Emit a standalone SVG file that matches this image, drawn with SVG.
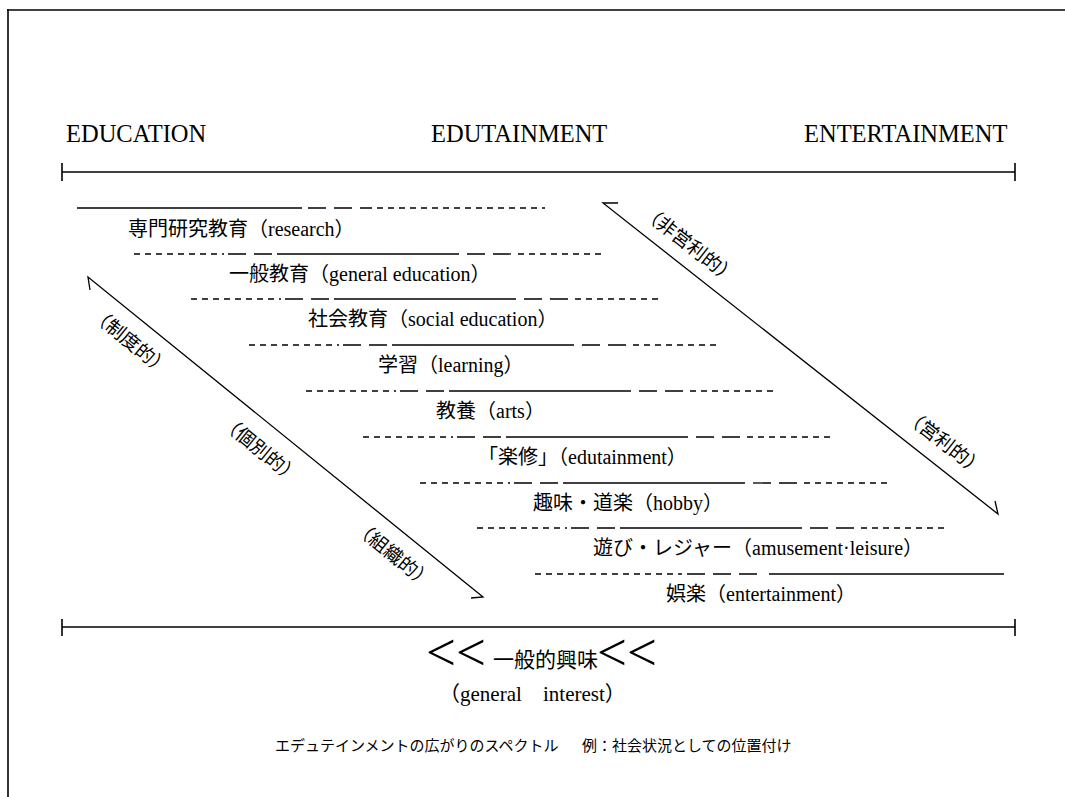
<svg xmlns="http://www.w3.org/2000/svg" width="1065" height="797" viewBox="0 0 1065 797">
<style>
  .ln { stroke:#000; stroke-width:1.3; fill:none; }
  .sh { stroke:#000; stroke-width:1.3; stroke-dasharray:6 5; fill:none; }
  .lg { stroke:#000; stroke-width:1.3; stroke-dasharray:18 8; fill:none; }
  .ax { stroke:#000; stroke-width:1.6; fill:none; }
  .t  { font-family:"Liberation Serif","Noto Sans CJK JP",serif; font-size:20px; fill:#000; }
  .h  { font-family:"Liberation Serif",serif; font-size:24.5px; fill:#000; }
  .r  { font-family:"Liberation Serif","Noto Sans CJK JP",serif; font-size:19px; fill:#000; text-anchor:middle; }
  .cv { font-family:"Liberation Serif",serif; font-size:53px; fill:#000; }
  .cap{ font-family:"Noto Sans CJK JP",sans-serif; font-size:15px; fill:#000; }
</style>
<rect width="1065" height="797" fill="#fff"/>
<g id="frame">
  <line class="ax" x1="7" y1="10" x2="1065" y2="10"/>
  <line class="ax" x1="8" y1="9" x2="8" y2="797"/>
</g>
<g id="header">
  <text class="h" x="66" y="142">EDUCATION</text>
  <text class="h" x="431" y="142">EDUTAINMENT</text>
  <text class="h" x="804" y="142">ENTERTAINMENT</text>
</g>
<g id="connectors">
  <g id="top-axis">
    <line class="ax" x1="62" y1="172" x2="1015" y2="172"/>
    <line class="ax" x1="62" y1="163" x2="62" y2="181"/>
    <line class="ax" x1="1015" y1="163" x2="1015" y2="181"/>
  </g>
  <g id="bottom-axis">
    <line class="ax" x1="62" y1="627" x2="1015" y2="627"/>
    <line class="ax" x1="62" y1="619" x2="62" y2="636"/>
    <line class="ax" x1="1015" y1="619" x2="1015" y2="636"/>
  </g>
  <g id="arrow-left">
    <polyline class="ln" points="90,290 88,277 483,597 471,598"/>
  </g>
  <g id="arrow-right">
    <polyline class="ln" points="618,203 603,203 998,514 995,501"/>
  </g>
</g>
<g id="row-research">
  <line class="ln" x1="77" y1="208" x2="302" y2="208"/>
  <line class="lg" x1="308" y1="208" x2="372" y2="208"/>
  <line class="sh" x1="377" y1="208" x2="545" y2="208"/>
  <text class="t" x="128" y="236">専門研究教育（research）</text>
</g>
<g id="row-general">
  <line class="sh" x1="134" y1="254" x2="224" y2="254"/>
  <line class="lg" x1="228" y1="254" x2="272" y2="254"/>
  <line class="ln" x1="277" y1="254" x2="459" y2="254"/>
  <line class="lg" x1="467" y1="254" x2="514" y2="254"/>
  <line class="sh" x1="518" y1="254" x2="602" y2="254"/>
  <text class="t" x="229" y="281">一般教育（general education）</text>
</g>
<g id="row-social">
  <line class="sh" x1="191" y1="299" x2="281" y2="299"/>
  <line class="lg" x1="285" y1="299" x2="329" y2="299"/>
  <line class="ln" x1="334" y1="299" x2="516" y2="299"/>
  <line class="lg" x1="524" y1="299" x2="571" y2="299"/>
  <line class="sh" x1="575" y1="299" x2="659" y2="299"/>
  <text class="t" x="308" y="326">社会教育（social education）</text>
</g>
<g id="row-learning">
  <line class="sh" x1="249" y1="345" x2="339" y2="345"/>
  <line class="lg" x1="343" y1="345" x2="387" y2="345"/>
  <line class="ln" x1="392" y1="345" x2="574" y2="345"/>
  <line class="lg" x1="582" y1="345" x2="629" y2="345"/>
  <line class="sh" x1="633" y1="345" x2="717" y2="345"/>
  <text class="t" x="378" y="372">学習（learning）</text>
</g>
<g id="row-arts">
  <line class="sh" x1="306" y1="391" x2="396" y2="391"/>
  <line class="lg" x1="400" y1="391" x2="444" y2="391"/>
  <line class="ln" x1="449" y1="391" x2="631" y2="391"/>
  <line class="lg" x1="639" y1="391" x2="686" y2="391"/>
  <line class="sh" x1="690" y1="391" x2="774" y2="391"/>
  <text class="t" x="436" y="418">教養（arts）</text>
</g>
<g id="row-edutainment">
  <line class="sh" x1="363" y1="437" x2="453" y2="437"/>
  <line class="lg" x1="457" y1="437" x2="501" y2="437"/>
  <line class="ln" x1="506" y1="437" x2="688" y2="437"/>
  <line class="lg" x1="696" y1="437" x2="743" y2="437"/>
  <line class="sh" x1="747" y1="437" x2="831" y2="437"/>
  <text class="t" x="478" y="464">「楽修」（edutainment）</text>
</g>
<g id="row-hobby">
  <line class="sh" x1="420" y1="483" x2="510" y2="483"/>
  <line class="lg" x1="514" y1="483" x2="558" y2="483"/>
  <line class="ln" x1="563" y1="483" x2="745" y2="483"/>
  <line class="lg" x1="753" y1="483" x2="800" y2="483"/>
  <line class="sh" x1="804" y1="483" x2="888" y2="483"/>
  <text class="t" x="533" y="510">趣味・道楽（hobby）</text>
</g>
<g id="row-amusement">
  <line class="sh" x1="477" y1="528" x2="567" y2="528"/>
  <line class="lg" x1="571" y1="528" x2="615" y2="528"/>
  <line class="ln" x1="620" y1="528" x2="802" y2="528"/>
  <line class="lg" x1="810" y1="528" x2="857" y2="528"/>
  <line class="sh" x1="861" y1="528" x2="945" y2="528"/>
  <text class="t" x="593" y="555">遊び・レジャー（amusement·leisure）</text>
</g>
<g id="row-entertainment">
  <line class="sh" x1="535" y1="574" x2="682" y2="574"/>
  <line class="lg" x1="687" y1="574" x2="765" y2="574"/>
  <line class="ln" x1="769" y1="574" x2="1004" y2="574"/>
  <text class="t" x="666" y="601">娯楽（entertainment）</text>
</g>
<g id="labels-left">
  <text class="r" x="130" y="348" transform="rotate(39 130 342)">（制度的）</text>
  <text class="r" x="260" y="456" transform="rotate(39 260 450)">（個別的）</text>
  <text class="r" x="393" y="561" transform="rotate(39 393 555)">（組織的）</text>
</g>
<g id="labels-right">
  <text class="r" x="689" y="251" transform="rotate(38 689 245)">（非営利的）</text>
  <text class="r" x="944" y="449" transform="rotate(38 944 443)">（営利的）</text>
</g>
<g id="general-interest">
  <text class="cv" x="426" y="670">&lt;&lt;</text>
  <text class="t" x="493" y="667" style="font-size:21px">一般的興味</text>
  <text class="cv" x="597" y="670">&lt;&lt;</text>
  <text class="t" x="439" y="701" style="font-size:21px" word-spacing="16">（general interest）</text>
</g>
<g id="caption">
  <text class="cap" x="275" y="751">エデュテインメントの広がりのスペクトル</text>
  <text class="cap" x="582" y="751">例：社会状況としての位置付け</text>
</g>
</svg>
